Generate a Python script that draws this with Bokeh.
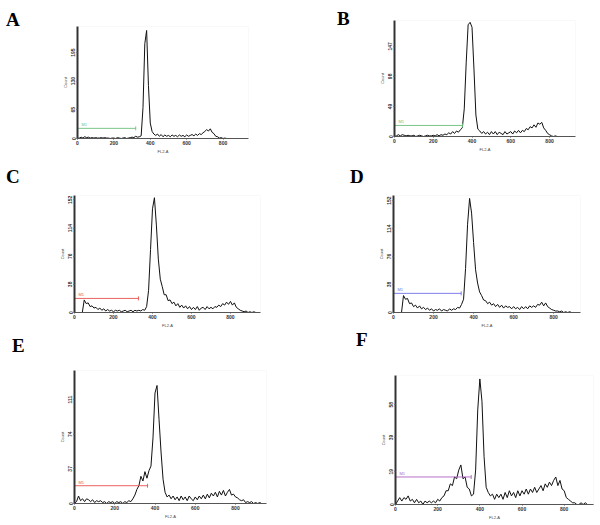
import numpy as np
from bokeh.plotting import figure
from bokeh.layouts import row, column
from bokeh.models import Div, BoxAnnotation, FixedTicker
from bokeh.embed import file_html
from bokeh.resources import INLINE
from bokeh.core.properties import value

BIN = 10  # channel width of each histogram bin

counts_A = [0, 1, 3, 1, 4, 2, 3, 1, 2, 1,
            2, 1, 1, 2, 1, 2, 1, 1, 0, 1,
            1, 0, 2, 1, 0, 1, 2, 0, 1, 2,
            3, 2, 5, 3, 4, 6, 70, 215, 245, 120,
            35, 16, 10, 7, 10, 5, 9, 4, 8, 5,
            7, 4, 8, 5, 7, 4, 8, 5, 7, 4,
            8, 5, 7, 9, 6, 10, 7, 11, 9, 13,
            16, 20, 17, 22, 14, 11, 5, 4, 1, 2,
            0, 1, 0, 0, 0, 0, 0, 0, 0, 0,
            0, 0, 0]
counts_B = [0, 1, 3, 1, 3, 2, 1, 2, 1, 1,
            2, 0, 1, 2, 1, 0, 1, 2, 1, 1,
            2, 1, 3, 1, 3, 2, 4, 3, 6, 4,
            8, 5, 9, 7, 11, 14, 45, 120, 182, 186,
            178, 110, 35, 12, 9, 5, 8, 4, 7, 3,
            8, 4, 8, 3, 7, 5, 3, 8, 4, 6,
            8, 4, 9, 6, 10, 6, 10, 8, 13, 11,
            16, 14, 19, 15, 22, 20, 23, 14, 10, 5,
            3, 1, 0, 1, 0, 0, 0, 0, 0, 0,
            0, 0, 0, 0]
counts_C = [0, 0, 0, 0, 0, 17, 12, 13, 8, 9,
            6, 7, 4, 6, 3, 5, 2, 4, 2, 3,
            1, 3, 2, 3, 1, 2, 3, 1, 2, 3,
            1, 3, 2, 3, 2, 4, 3, 8, 30, 85,
            140, 155, 118, 72, 45, 35, 24, 24, 16, 17,
            12, 14, 9, 12, 7, 10, 6, 9, 5, 8,
            4, 7, 4, 8, 3, 6, 7, 4, 8, 5,
            7, 5, 8, 7, 10, 8, 12, 10, 14, 11,
            15, 10, 13, 7, 5, 3, 2, 1, 2, 0,
            1, 0, 1, 0, 0, 0]
counts_D = [0, 0, 0, 0, 0, 23, 18, 19, 12, 13,
            8, 10, 6, 9, 5, 7, 4, 6, 3, 5,
            2, 4, 3, 5, 2, 4, 3, 2, 5, 3,
            5, 4, 7, 6, 11, 18, 60, 120, 155, 135,
            95, 58, 40, 28, 23, 17, 16, 12, 14, 10,
            12, 8, 11, 7, 10, 6, 9, 7, 8, 5,
            8, 5, 7, 4, 8, 5, 8, 5, 9, 7,
            9, 7, 11, 10, 14, 9, 13, 8, 6, 4,
            3, 2, 2, 1, 2, 0, 1, 0, 1, 0,
            0, 0, 0, 0]
counts_E = [0, 2, 8, 3, 5, 2, 5, 4, 2, 4,
            1, 3, 2, 3, 1, 2, 0, 2, 1, 2,
            0, 2, 1, 2, 0, 2, 1, 3, 2, 5,
            9, 15, 19, 29, 24, 34, 27, 35, 40, 70,
            118, 126, 90, 55, 26, 12, 7, 9, 5, 8,
            4, 7, 3, 8, 4, 7, 3, 8, 5, 3,
            7, 4, 8, 5, 9, 5, 10, 6, 11, 8,
            12, 7, 13, 9, 14, 8, 12, 15, 9, 10,
            7, 6, 4, 3, 4, 1, 2, 1, 2, 0,
            1, 0, 1, 0, 0, 0]
counts_F = [0, 2, 4, 2, 4, 3, 5, 2, 3, 1,
            3, 1, 2, 0, 2, 1, 2, 1, 2, 1,
            3, 2, 4, 5, 8, 8, 12, 11, 16, 15,
            20, 23, 15, 16, 10, 9, 5, 6, 20, 55,
            73, 60, 28, 10, 7, 5, 6, 3, 6, 4,
            6, 3, 7, 4, 8, 5, 7, 4, 8, 5,
            8, 6, 9, 6, 9, 7, 10, 7, 9, 11,
            8, 12, 10, 13, 11, 14, 16, 11, 14, 9,
            8, 4, 3, 2, 1, 1, 0, 0, 1, 0,
            1, 0, 0, 0, 0]

x_ticks = [0, 200, 400, 600, 800]
y_ticks_A = [0, 65, 130, 195]
y_ticks_B = [0, 49, 98, 147]
y_ticks_C = [0, 38, 76, 114, 152]
y_ticks_D = [0, 38, 76, 114, 152]
y_ticks_E = [0, 37, 74, 111]
y_ticks_F = [0, 19, 39, 58]

# gate marker: start channel, end channel, count level
gate_A = (0, 320, 23)
gate_B = (0, 351, 18)
gate_C = (0, 328, 19)
gate_D = (0, 338, 26)
gate_E = (0, 363, 19)
gate_F = (0, 359, 16)

letters = ["A", "B", "C", "D", "E", "F"]

GREEN, RED, BLUE, PURPLE = "#6cbf7a", "#e8504f", "#6f6fe8", "#b060c0"

# lw: width of the letter column; b: figure borders (l, r, t, b);
# let: letter (x, baseline y) inside the cell; box: grey frame (l, t, r, b) in figure canvas px
panels = [
    dict(counts=counts_A, yt=y_ticks_A, gate=gate_A, gc=GREEN, xmax=940, ymax=254,
         lw=45, w=300, h=160, b=(32, 52, 26, 22), let=(6, 26), box=(16, 26, 203, 143)),
    dict(counts=counts_B, yt=y_ticks_B, gate=gate_B, gc=GREEN, xmax=934, ymax=189,
         lw=75, w=298, h=160, b=(19, 23, 20, 24), let=(37, 25), box=(7, 20, 200, 143)),
    dict(counts=counts_C, yt=y_ticks_C, gate=gate_C, gc=RED, xmax=954, ymax=158,
         lw=45, w=300, h=170, b=(29, 40, 35, 13), let=(6, 23), box=(16, 35, 215, 163)),
    dict(counts=counts_D, yt=y_ticks_D, gate=gate_D, gc=BLUE, xmax=934, ymax=159,
         lw=75, w=298, h=170, b=(17, 18, 35, 18), let=(50, 23), box=(8, 35, 205, 158)),
    dict(counts=counts_E, yt=y_ticks_E, gate=gate_E, gc=RED, xmax=954, ymax=142,
         lw=45, w=300, h=193, b=(29, 34, 40, 20), let=(12, 22), box=(16, 40, 221, 180)),
    dict(counts=counts_F, yt=y_ticks_F, gate=gate_F, gc=PURPLE, xmax=939, ymax=75,
         lw=75, w=298, h=193, b=(20, 5, 45, 19), let=(56, 16), box=(7, 45, 218, 180)),
]


def make_panel(cfg, letter):
    l, r, t, b = cfg["b"]
    p = figure(width=cfg["w"] - cfg["lw"], height=cfg["h"], x_range=(0, cfg["xmax"]),
               y_range=(0, cfg["ymax"]), output_backend="svg", toolbar_location=None,
               min_border_left=l, min_border_right=r, min_border_top=t, min_border_bottom=b,
               background_fill_color="white", border_fill_color="white", margin=0)
    p.xgrid.visible = False
    p.ygrid.visible = False
    p.outline_line_color = None

    counts = cfg["counts"]
    x = np.arange(len(counts)) * BIN
    p.line(x, counts, line_color="#111111", line_width=1.0)

    g0, g1, gy = cfg["gate"]
    p.segment(x0=[g0], y0=[gy], x1=[g1], y1=[gy], line_color=cfg["gc"], line_width=0.9)
    p.scatter(x=[g0, g1], y=[gy, gy], marker="dash", angle=np.pi / 2, size=4,
              line_color=cfg["gc"], line_width=0.9)
    p.text(x=[g0], y=[gy], text=["M1"], x_offset=4, y_offset=-1,
           text_font=value("Liberation Sans"), text_font_size="4px",
           text_color=cfg["gc"], text_baseline="bottom")

    for ax in (p.xaxis[0], p.yaxis[0]):
        ax.minor_tick_line_color = None
        ax.major_tick_in = 0
        ax.major_tick_out = 1
        ax.major_label_standoff = 1
        ax.axis_label_standoff = 1
        ax.major_label_text_font = "Liberation Sans"
        ax.major_label_text_font_style = "bold"
        ax.major_label_text_font_size = "5px"
        ax.major_label_text_color = "#333333"
        ax.axis_label_text_font = "Liberation Sans"
        ax.axis_label_text_font_style = "normal"
        ax.axis_label_text_font_size = "4px"
        ax.axis_label_text_color = "#444444"
        ax.major_tick_line_color = "#555555"
    p.xaxis.ticker = FixedTicker(ticks=x_ticks)
    p.yaxis.ticker = FixedTicker(ticks=cfg["yt"])
    p.yaxis.major_label_orientation = "vertical"
    p.yaxis.axis_label = "Count"
    p.xaxis.axis_label = "FL2-A"
    p.yaxis.axis_line_width = 2
    p.yaxis.axis_line_color = "#333333"
    p.xaxis.axis_line_width = 1
    p.xaxis.axis_line_color = "#555555"

    bl, bt, br, bb = cfg["box"]
    p.add_layout(BoxAnnotation(left=bl, right=br, top=bt, bottom=bb,
                               left_units="canvas", right_units="canvas",
                               top_units="canvas", bottom_units="canvas",
                               fill_color=None, line_color="#d6d6d6", line_width=1))

    lx, ly = cfg["let"]
    div = Div(width=cfg["lw"], height=cfg["h"], margin=0,
              text=(f'<div style="padding-left:{lx}px;padding-top:{max(ly - 16, 0)}px;'
                    'font-family:\'Liberation Serif\';font-weight:bold;font-size:19px;'
                    f'line-height:19px;color:black">{letter}</div>'))
    return row(div, p)


cells = [make_panel(cfg, let) for cfg, let in zip(panels, letters)]
layout = column(row(cells[0], cells[1]), row(cells[2], cells[3]), row(cells[4], cells[5]))

open("out.html", "w").write(file_html(layout, INLINE))
